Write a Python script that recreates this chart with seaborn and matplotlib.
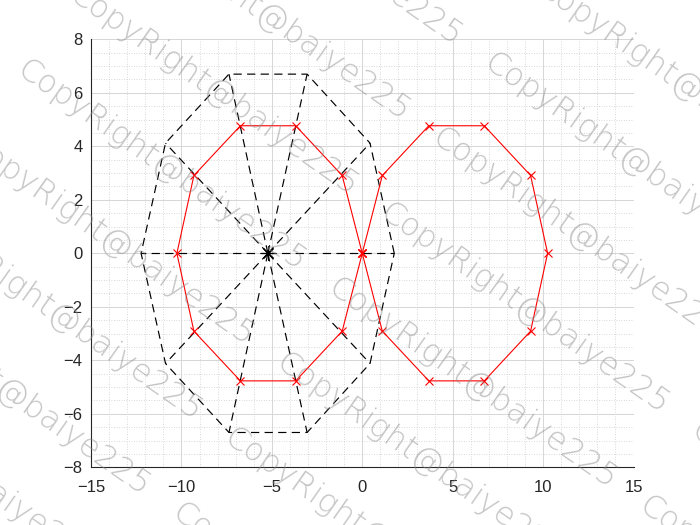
import matplotlib
matplotlib.use("Agg")
import matplotlib.pyplot as plt
import seaborn as sns
import pandas as pd
import numpy as np

# vertices (closed polygons)
left_x = [0, -1.11, -3.68, -6.74, -9.31, -10.25, -9.31, -6.74, -3.68, -1.11, 0]
left_y = [0, 2.91, 4.77, 4.77, 2.91, 0, -2.91, -4.77, -4.77, -2.91, 0]
right_x = [0, 1.11, 3.68, 6.75, 9.31, 10.25, 9.31, 6.75, 3.68, 1.11, 0]
right_y = [0, 2.91, 4.77, 4.77, 2.91, 0, -2.91, -4.77, -4.77, -2.91, 0]
outer_x = [1.77, 0.43, -3.05, -7.37, -10.88, -12.23, -10.88, -7.37, -3.05, 0.43, 1.77]
outer_y = [0, 4.12, 6.70, 6.70, 4.12, 0, -4.12, -6.70, -6.70, -4.12, 0]
center = (-5.22, 0)

xticks = [-15, -10, -5, 0, 5, 10, 15]
yticks = [-8, -6, -4, -2, 0, 2, 4, 6, 8]

sns.set_style("white")
plt.rcParams['font.family'] = ['Liberation Sans', 'DejaVu Sans']

fig = plt.figure(figsize=(7, 5.25), dpi=100)
ax = fig.add_axes([0.13, 0.11, 0.775, 0.815])

dash = (0, (7, 4.5))

# spokes from the centre to every outer vertex
spokes = pd.DataFrame({
    'x': [v for xv in outer_x[:-1] for v in (center[0], xv)],
    'y': [v for yv in outer_y[:-1] for v in (center[1], yv)],
    'id': [i for i in range(len(outer_x) - 1) for _ in range(2)],
})
sns.lineplot(data=spokes, x='x', y='y', units='id', estimator=None, sort=False,
             color='black', lw=0.85, linestyle=dash, ax=ax, zorder=3)

outer = pd.DataFrame({'x': outer_x, 'y': outer_y})
sns.lineplot(data=outer, x='x', y='y', sort=False, estimator=None,
             color='black', lw=0.85, linestyle=dash, ax=ax, zorder=3)

for xs, ys in [(left_x, left_y), (right_x, right_y)]:
    df = pd.DataFrame({'x': xs, 'y': ys})
    sns.lineplot(data=df, x='x', y='y', sort=False, estimator=None,
                 color='#ff0000', lw=0.8, marker='x', markersize=6,
                 markeredgecolor='#ff0000', markeredgewidth=0.8,
                 ax=ax, zorder=4)

ax.plot([center[0]], [center[1]], marker=(8, 2, 0), markersize=10,
        color='black', markeredgewidth=0.8, zorder=5)

ax.set_xlim(-15, 15)
ax.set_ylim(-8, 8)
ax.set_xticks(xticks)
ax.set_yticks(yticks)
ax.set_xticks(np.arange(-15, 15.1, 1), minor=True)
ax.set_yticks(np.arange(-8, 8.1, 0.5), minor=True)
ax.set_xlabel('')
ax.set_ylabel('')

ax.grid(which='major', color='#d6d6d6', lw=0.7, linestyle='-')
ax.grid(which='minor', color='#cccccc', lw=0.6, linestyle=(0, (1, 2)))
ax.set_axisbelow(True)

ax.tick_params(which='major', direction='in', length=5, width=0.8,
               colors='#262626', labelsize=12, pad=6)
ax.tick_params(which='minor', length=0)
ax.tick_params(axis='x', pad=9)
for side in ['top', 'right']:
    ax.spines[side].set_visible(False)
for side in ['left', 'bottom']:
    ax.spines[side].set_color('#262626')
    ax.spines[side].set_linewidth(0.8)

# watermark tiling
W, H = 700, 525
ang = np.deg2rad(35)
along = np.array([np.cos(ang), np.sin(ang)]) * 380
row = np.array([-52, 75])
start = np.array([383, 210])
for k in range(-7, 8):
    for j in range(-3, 3):
        px, py = start + k * row + j * along
        fig.text(px / W, 1 - py / H, 'CopyRight@baiye225', rotation=-35,
                 rotation_mode='anchor', ha='left', va='center',
                 fontsize=23, fontweight='light', color='#8c8c8c', alpha=0.5,
                 family=['DejaVu Sans'], zorder=10)

fig.savefig('out.png', dpi=100)
